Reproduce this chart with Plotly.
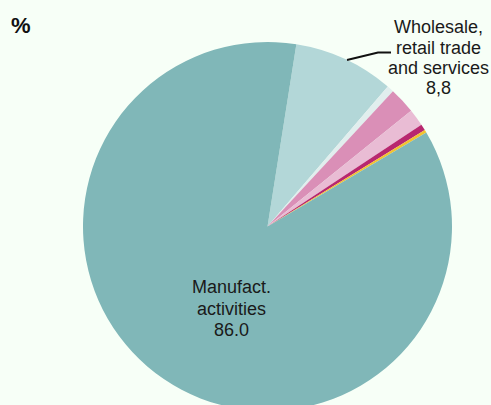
import plotly.graph_objects as go

# Shares by activity (%)
labels = ["Wholesale, retail trade and services", "Other services", "Construction",
          "Transport", "Energy", "Agriculture", "Manufact. activities"]
values = [8.8, 0.6, 2.3, 1.5, 0.55, 0.25, 86.0]
colors = ["#b3d7d8", "#e1eeee", "#da8fb7", "#e9bcd4", "#b8276f", "#f2c230", "#80b7b8"]

W, H = 491, 414
ML, MR, MT, MB = 83, 39, 42, 3
PW, PH = W - ML - MR, H - MT - MB
FS = 18


def px(x):
    return (x - ML) / PW


def py(y):
    return (H - MB - y) / PH


fig = go.Figure(go.Pie(
    labels=labels,
    values=values,
    sort=False,
    direction="clockwise",
    rotation=9,
    marker=dict(colors=colors, line=dict(width=0)),
    textinfo="none",
    hoverinfo="label+value",
    showlegend=False,
))

font = dict(family="Liberation Sans, Arial, sans-serif", size=FS, color="#1a1a1a")


def add_label(lines, cx, first_baseline, pitch):
    # one annotation per line so the line spacing can be set tightly
    for i, line in enumerate(lines):
        base = first_baseline + i * pitch
        fig.add_annotation(
            x=px(cx), y=py(base - 0.3 * FS), xref="paper", yref="paper",
            xanchor="center", yanchor="middle",
            text=line, showarrow=False, font=font,
        )


add_label(["Manufact.", "activities", "%.1f" % values[6]], 231, 292.7, 21.5)
add_label(["Wholesale,", "retail trade", "and services",
           ("%.1f" % values[0]).replace(".", ",")], 438, 32.7, 20.2)

fig.add_annotation(
    x=px(9), y=py(31.7 - 0.3 * 22), xref="paper", yref="paper",
    xanchor="left", yanchor="middle",
    text="<b>%</b>", showarrow=False,
    font=dict(family="Liberation Sans, Arial, sans-serif", size=22, color="#111111"),
)
fig.add_shape(
    type="path", xref="paper", yref="paper",
    path="M %f %f L %f %f L %f %f" % (px(347), py(60), px(378), py(52.5), px(391), py(52.5)),
    line=dict(color="#111111", width=2),
)

fig.update_layout(
    width=W, height=H,
    margin=dict(l=ML, r=MR, t=MT, b=MB, autoexpand=False),
    paper_bgcolor="#f7fff7",
    plot_bgcolor="#f7fff7",
)

fig.write_html(
    "out.html",
    post_script="document.body.style.overflow='hidden';document.documentElement.style.overflow='hidden';",
)
